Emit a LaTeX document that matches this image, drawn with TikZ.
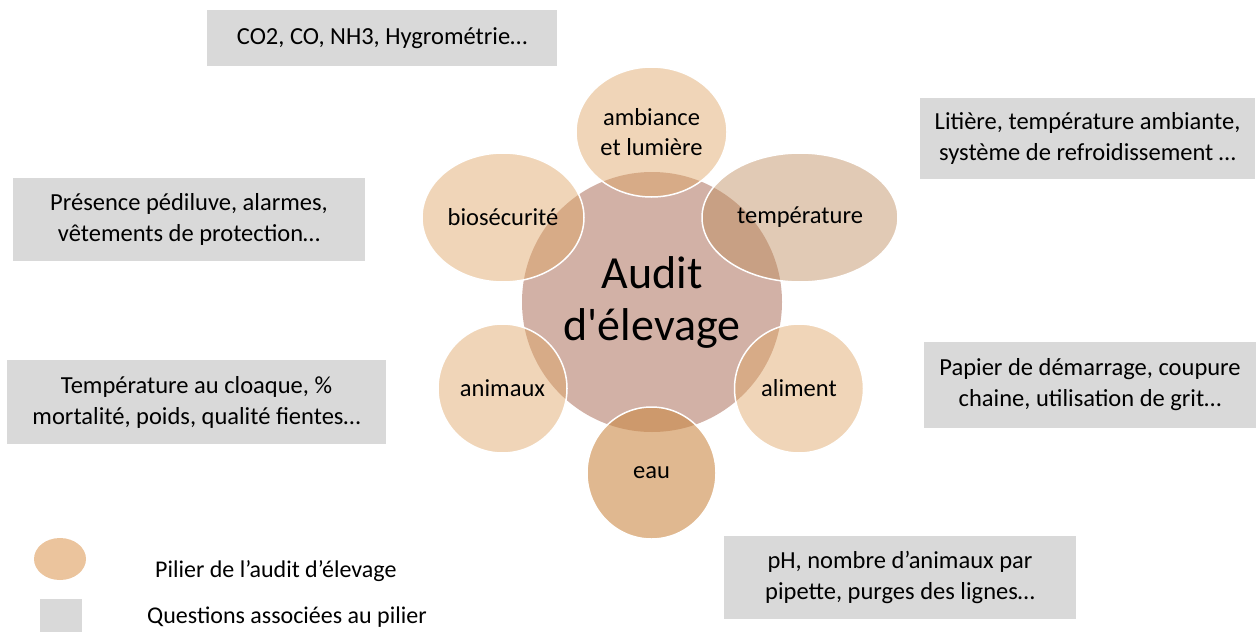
\documentclass[tikz,border=0pt]{standalone}
\usepackage{fontspec}
\setmainfont{Carlito}[Ligatures=TeXOff]
\usetikzlibrary{shapes.geometric}

\definecolor{pilier}{RGB}{222,164,100}
\definecolor{pilierT}{RGB}{190,140,94}
\definecolor{pilierE}{RGB}{203,137,70}
\definecolor{centre}{RGB}{210,177,166}
\definecolor{question}{RGB}{217,217,217}
\definecolor{legende}{RGB}{235,196,157}

\begin{document}
\begin{tikzpicture}[x=1pt,y=-1pt]

		\tikzstyle{pilier}=[ellipse,
			fill=pilier,fill opacity=0.46,text opacity=1,draw=white,line width=1.5pt,
			minimum width=129pt,minimum height=129pt,
			inner sep=0pt,align=center,font=\fontsize{24.5}{30}\selectfont]
		\tikzstyle{question}=[rectangle,
			fill=question,inner sep=0pt,
			align=center,font=\fontsize{24.5}{31}\selectfont]

		\useasboundingbox (0,0) rectangle (1256,632);

		\node[circle,fill=centre,minimum size=260pt,inner sep=0pt,align=center,
			font=\fontsize{46}{52}\selectfont]	(audit)	at (652,302)	{Audit\\d'élevage};

		\node[pilier,minimum width=151pt,minimum height=130pt]	(ambiance)	at (651.5,132)	{ambiance\\et lumière};
		\node[pilier,minimum width=196pt,fill=pilierT]	(temperature)	at (800,217.5)	{température};
		\node[pilier]	(aliment)	at (799,388.5)	{aliment};
		\node[pilier,minimum height=132pt,fill=pilierE,fill opacity=0.6]	(eau)	at (651.5,473)	{eau};
		\node[pilier]	(animaux)	at (502.5,388.5)	{animaux};
		\node[pilier,minimum width=162pt]	(biosecurite)	at (503,217.5)	{biosécurité};

		\node[question,minimum width=350pt,minimum height=56pt]	(qambiance)	at (382,38)	{CO2, CO, NH3, Hygrométrie…};
		\node[question,minimum width=335pt,minimum height=81pt]	(qtemperature)	at (1087.5,138.5)	{Litière, température ambiante,\\système de refroidissement …};
		\node[question,minimum width=352pt,minimum height=83pt]	(qbiosecurite)	at (189,219.5)	{Présence pédiluve, alarmes,\\vêtements de protection…};
		\node[question,minimum width=379pt,minimum height=84pt]	(qanimaux)	at (196.5,402)	{Température au cloaque, \%\\mortalité, poids, qualité fientes…};
		\node[question,minimum width=332pt,minimum height=86pt]	(qaliment)	at (1090,385)	{Papier de démarrage, coupure\\chaine, utilisation de grit…};
		\node[question,minimum width=352pt,minimum height=83pt]	(qeau)	at (900,577.5)	{pH, nombre d’animaux par\\pipette, purges des lignes…};

		% legende
		\node[ellipse,fill=legende,minimum width=52pt,minimum height=42pt,inner sep=0pt]	(lpilier)	at (60,559)	{};
		\node[rectangle,fill=question,minimum width=42pt,minimum height=34pt,inner sep=0pt]	(lquestion)	at (61,616)	{};
		\node[anchor=west,inner sep=0pt,font=\fontsize{24}{30}\selectfont]	(tpilier)	at (155,571)	{Pilier de l’audit d’élevage};
		\node[anchor=west,inner sep=0pt,font=\fontsize{24}{30}\selectfont]	(tquestion)	at (147,617)	{Questions associées au pilier};

	\end{tikzpicture}
\end{document}
